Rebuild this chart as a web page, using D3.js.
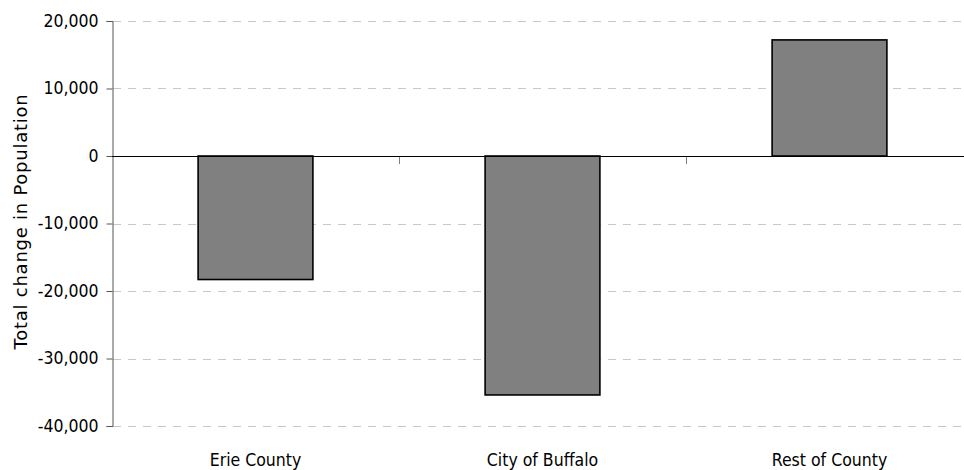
<!DOCTYPE html>
<html>
<head>
<meta charset="utf-8">
<script src="https://cdn.jsdelivr.net/npm/d3@7"></script>
<style>
  body { margin: 0; background: #fff; }
  text { font-family: "DejaVu Sans Condensed", "DejaVu Sans", sans-serif; fill: #000; }
</style>
</head>
<body>
<div class="chart"></div>
<script>
// chart data
let categories = ["Erie County", "City of Buffalo", "Rest of County"];
let popChange = [-18300, -35400, 17200];
let yTicks = [20000, 10000, 0, -10000, -20000, -30000, -40000];

let w = 964;
let h = 470;
let plotLeft = 112, plotRight = 973, plotTop = 21, plotBottom = 426;

let svg = d3.select(".chart")
  .append("svg")
  .attr("width", w)
  .attr("height", h);

let x = d3.scaleBand()
  .domain(categories)
  .range([plotLeft, plotRight])
  .paddingInner(0.6)
  .paddingOuter(0.3);

let y = d3.scaleLinear()
  .domain([-40000, 20000])
  .range([plotBottom, plotTop]);

// dashed gridlines (not at zero)
svg.selectAll(".grid")
  .data(yTicks.filter(d => d != 0))
  .enter()
  .append("line")
  .attr("x1", plotLeft + 1)
  .attr("x2", plotRight)
  .attr("y1", d => Math.round(y(d)) + 0.5)
  .attr("y2", d => Math.round(y(d)) + 0.5)
  .attr("stroke", "#c8c8c8")
  .attr("stroke-dasharray", "8,7");

// y axis, plain hyphen for negatives
let fmt = d3.format(",");
let yAxis = d3.axisLeft(y)
  .tickValues(yTicks)
  .tickSize(6)
  .tickPadding(8)
  .tickFormat(d => fmt(d).replace("\u2212", "-"));

let gy = svg.append("g")
  .attr("transform", "translate(" + (plotLeft + 0.5) + ",0)")
  .call(yAxis);
gy.select(".domain").attr("stroke", "#555");
gy.selectAll(".tick line").attr("stroke", "#555");
gy.selectAll(".tick text")
  .style("font-size", "17.5px")
  .attr("dy", "0.3em");

// category boundary ticks under the zero line
let step = x.step();
let bounds = [];
for (let i = 1; i <= categories.length; i++) bounds.push(plotLeft + i * step);
svg.selectAll(".ctick")
  .data(bounds)
  .enter()
  .append("line")
  .attr("x1", d => Math.round(d) + 0.5)
  .attr("x2", d => Math.round(d) + 0.5)
  .attr("y1", Math.round(y(0)))
  .attr("y2", Math.round(y(0)) + 8)
  .attr("stroke", "#808080");

// bars
svg.selectAll(".bar")
  .data(popChange)
  .enter()
  .append("rect")
  .attr("x", (d, i) => x(categories[i]))
  .attr("width", x.bandwidth())
  .attr("y", d => y(Math.max(0, d)))
  .attr("height", d => Math.abs(y(d) - y(0)))
  .attr("fill", "#808080")
  .attr("stroke", "#000")
  .attr("stroke-width", 1.6);

// zero line
svg.append("line")
  .attr("x1", plotLeft)
  .attr("x2", plotRight)
  .attr("y1", Math.round(y(0)) + 0.5)
  .attr("y2", Math.round(y(0)) + 0.5)
  .attr("stroke", "#000");

// category labels
svg.selectAll(".clabel")
  .data(categories)
  .enter()
  .append("text")
  .attr("x", d => x(d) + x.bandwidth() / 2)
  .attr("y", 466)
  .attr("text-anchor", "middle")
  .style("font-size", "17.5px")
  .text(d => d);

// y axis title
svg.append("text")
  .attr("transform", "translate(27,221.5) rotate(-90)")
  .attr("text-anchor", "middle")
  .style("font-family", "'DejaVu Sans', sans-serif")
  .style("font-size", "18px")
  .style("letter-spacing", "0.75px")
  .text("Total change in Population");
</script>
</body>
</html>
